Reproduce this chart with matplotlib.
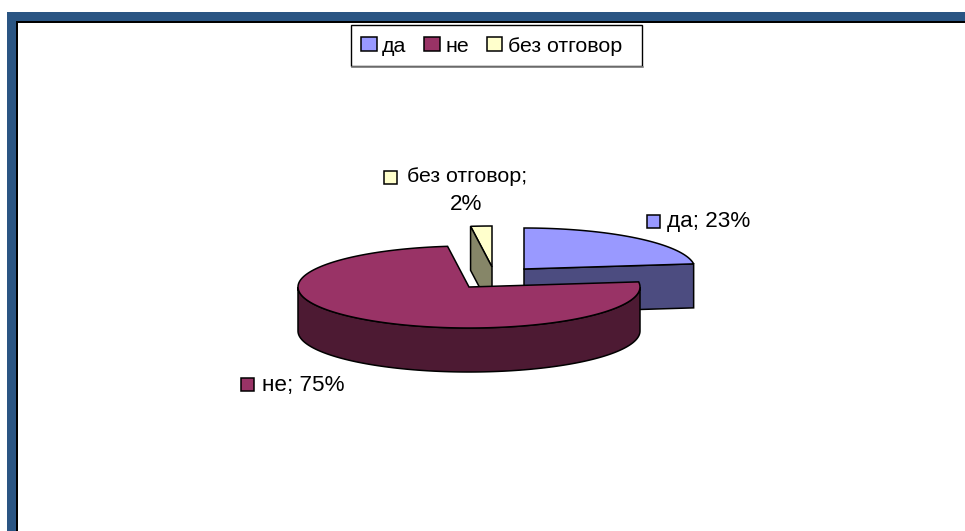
import numpy as np
import matplotlib
matplotlib.use("Agg")
import matplotlib.pyplot as plt
from matplotlib.patches import Patch, Polygon, Rectangle

plt.rcParams['font.family'] = ['Liberation Sans', 'DejaVu Sans']

categories = ['да', 'не', 'без отговор']
shares = [23, 75, 2]
top_colors = ['#9999ff', '#993366', '#ffffcc']
side_colors = ['#4c4c80', '#4d1a33', '#868668']

# центры секторов (взрыв) в пикселях картинки
centers = [(524, 269), (469, 287), (492, 267)]
RX, RY, DEPTH = 171, 41, 44
FS = 15.4
FS_SHORT = 16.2


def ell(c, a):
    # угол по часовой стрелке от 12 часов
    a = np.radians(a)
    return np.column_stack([c[0] + RX * np.sin(a), c[1] - RY * np.cos(a)])


fig = plt.figure(figsize=(9.65, 5.31), dpi=100)
ax = fig.add_axes([0, 0, 1, 1])
ax.set_xlim(0, 965)
ax.set_ylim(531, 0)
ax.axis('off')

# рамка
ax.add_patch(Rectangle((7, 12), 958, 9, fc='#2a5583', ec='none'))
ax.add_patch(Rectangle((7, 12), 9, 519, fc='#2a5583', ec='none'))
ax.add_patch(Rectangle((16, 21), 949, 1.5, fc='black', ec='none'))
ax.add_patch(Rectangle((16, 21), 1.5, 510, fc='black', ec='none'))

edges = np.cumsum([0] + shares) * 3.6
starts, ends = edges[:-1], edges[1:]
lw = 1.1


def poly(pts, color, z):
    ax.add_patch(Polygon(pts, closed=True, fc=color, ec='black', lw=lw, joinstyle='miter', zorder=z))


down = np.array([0, DEPTH])

# да: срез и верх
i = 0
outer = ell(centers[i], ends[i])
poly(np.vstack([[centers[i]], outer, outer + down, np.array([centers[i]]) + down]), side_colors[i], 2)
arc = ell(centers[i], np.linspace(starts[i], ends[i], 60))
poly(np.vstack([[centers[i]], arc]), top_colors[i], 3)

# без отговор: срез и верх
i = 2
outer = ell(centers[i], starts[i])
arc = ell(centers[i], np.linspace(starts[i], ends[i], 10))
poly(np.vstack([[centers[i]], arc]), top_colors[i], 3)
poly(np.vstack([[centers[i]], outer, outer + down, np.array([centers[i]]) + down]), side_colors[i], 4)

# не: бок и верх
i = 1
side = ell(centers[i], np.linspace(90, 270, 120))
poly(np.vstack([side, (side + down)[::-1]]), side_colors[i], 5)
arc = ell(centers[i], np.linspace(starts[i], ends[i], 200))
poly(np.vstack([[centers[i]], arc]), top_colors[i], 6)


def square(x, y, color):
    ax.add_patch(Rectangle((x, y - 6.5), 13, 13, fc=color, ec='black', lw=1.1, zorder=8))


# подписи
square(647, 221, top_colors[0])
ax.text(667, 221, f'{categories[0]}; {shares[0]}%', fontsize=FS_SHORT, va='center', ha='left')
square(241, 384, top_colors[1])
ax.text(262, 386, f'{categories[1]}; {shares[1]}%', fontsize=FS_SHORT, va='center', ha='left')
square(384, 177, top_colors[2])
ax.text(407, 177, f'{categories[2]};', fontsize=FS, va='center', ha='left')
ax.text(466, 204, f'{shares[2]}%', fontsize=FS_SHORT, va='center', ha='center')

# легенда: рамка отдельно, слева и справа поля разные
ax.add_patch(Rectangle((351, 25), 291, 41, fc='white', ec='black', lw=1.0, zorder=9))
ax.plot([351.5, 642.5], [67, 67], color='#808080', lw=1.2, zorder=9)
handles = [Patch(fc=c, ec='black', lw=1.1) for c in top_colors]
leg = ax.legend(handles, categories, ncol=3, loc='center', bbox_to_anchor=(491.5, 46),
                bbox_transform=ax.transData, fontsize=FS, frameon=False,
                handlelength=0.72, handleheight=0.62, handletextpad=0.25,
                columnspacing=0.84, borderpad=0, borderaxespad=0)
leg.set_zorder(10)

fig.savefig('out.png', dpi=100)
